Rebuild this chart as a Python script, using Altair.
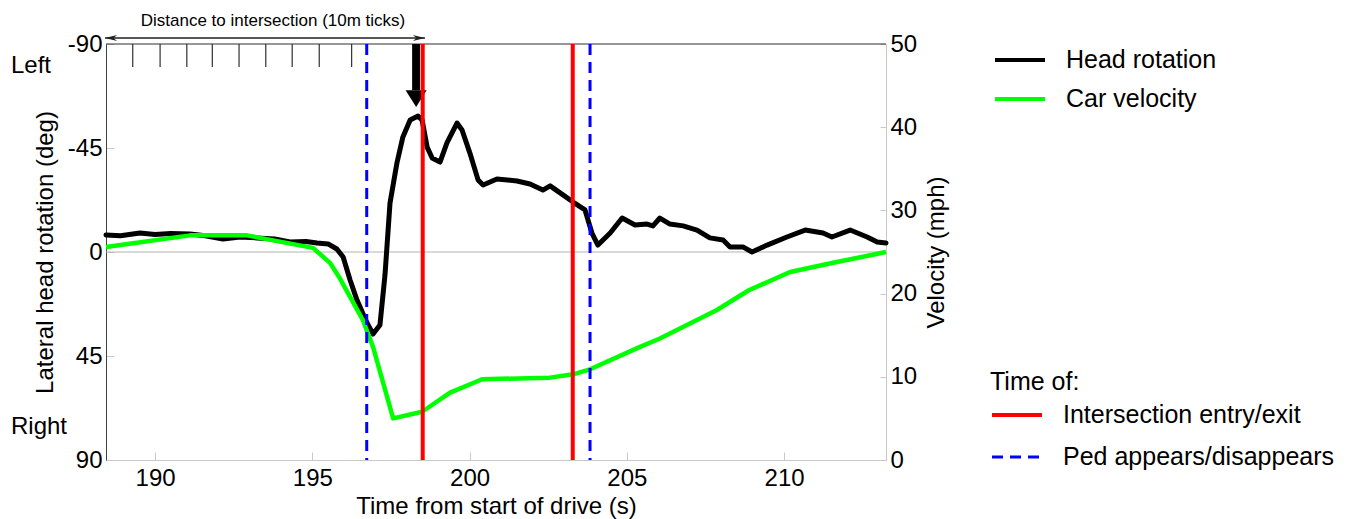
import altair as alt
import pandas as pd

FONT = "Liberation Sans"

# ---------------- data ----------------
head_t = [188.44, 188.9, 189.52, 190.0, 190.5, 191.11, 191.6, 192.16, 192.7, 193.24, 193.8, 194.29,
          194.8, 195.15, 195.5, 195.78, 195.98, 196.20, 196.42, 196.74, 196.93, 197.15, 197.31,
          197.47, 197.69, 197.88, 198.11, 198.36, 198.49, 198.65, 198.81, 199.06, 199.28, 199.60,
          199.76, 200.01, 200.27, 200.43, 200.87, 201.51, 201.92, 202.33, 202.56, 202.97, 203.29,
          203.67, 203.89, 204.08, 204.47, 204.85, 205.26, 205.64, 205.83, 206.05, 206.37, 206.79,
          207.23, 207.64, 208.06, 208.28, 208.69, 208.98, 209.46, 210.09, 210.67, 211.24, 211.52,
          212.10, 212.64, 212.96, 213.24]
head_deg = [-7.4, -7.0, -8.2, -7.6, -8.0, -7.8, -7.0, -5.6, -6.5, -6.1, -5.6, -4.3,
            -4.5, -3.9, -3.5, -1.3, 2.2, 12.1, 20.8, 30.7, 35.5, 31.6, 10.0,
            -21.2, -38.5, -49.8, -57.1, -58.8, -57.1, -45.4, -40.7, -38.9, -47.2, -55.8,
            -52.8, -42.8, -31.2, -29.0, -31.6, -30.7, -29.4, -26.8, -28.6, -24.7, -21.6,
            -18.2, -8.2, -3.0, -8.2, -14.7, -11.7, -12.1, -11.3, -14.7, -12.1, -11.3,
            -9.5, -6.1, -5.2, -2.2, -2.2, 0.0, -3.0, -6.5, -9.5, -8.2, -6.5,
            -9.5, -6.5, -4.3, -3.9]

vel_t = [188.44, 191.11, 192.92, 195.02, 195.56, 195.85, 196.20, 196.61, 196.93, 197.57, 198.49,
         199.38, 200.40, 202.56, 203.29, 203.83, 205.42, 206.05, 207.85, 208.88, 210.19, 211.56, 213.24]
vel_mph = [25.6, 27.0, 27.0, 25.5, 23.7, 22.0, 19.6, 16.8, 13.6, 5.0, 5.8,
           8.1, 9.7, 9.9, 10.3, 10.9, 13.6, 14.6, 18.0, 20.4, 22.6, 23.7, 25.0]

entry_exit_t = [198.51, 203.28]
ped_t = [196.73, 203.83]
event_names = ["Intersection entry/exit", "Ped appears/disappears"]
series_names = ["Head rotation", "Car velocity"]

dist_tick_t = [189.29, 190.16, 191.01, 191.82, 192.67, 193.52, 194.36, 195.22, 196.25]
dist_span_t = [188.41, 198.58]
dist_label = "Distance to intersection (10m ticks)"
head_arrow_t = 198.30

side_labels = ["Left", "Right"]
side_label_deg = [-80.5, 75.7]

x_ticks = [190, 195, 200, 205, 210]
deg_ticks = [-90, -45, 0, 45, 90]
vel_ticks = [0, 10, 20, 30, 40, 50]
X_DOMAIN = [188.44, 213.24]

# ---------------- scales ----------------
x_scale = alt.Scale(domain=X_DOMAIN, nice=False, zero=False)
deg_scale = alt.Scale(domain=[-90, 90], reverse=True, nice=False, zero=False)
vel_scale = alt.Scale(domain=[0, 50], nice=False, zero=False)
series_scale = alt.Scale(domain=series_names, range=["#000000", "#00ff00"])

INWARD = alt.ExprRef(expr="-8")

x_axis = alt.Axis(values=x_ticks, title="Time from start of drive (s)", labelExpr="'' + datum.value",
                  labelFontSize=24, labelFont=FONT, labelColor="black", labelFlush=False,
                  labelPadding=14, titleFontSize=24, titleFont=FONT, titleFontWeight="normal",
                  titleColor="black", titlePadding=4, domainColor="#c8c8c8", tickColor="#c8c8c8",
                  tickSize=INWARD, grid=False)

deg_axis = alt.Axis(values=deg_ticks, title="Lateral head rotation (deg)", labelExpr="'' + datum.value",
                    labelFontSize=24, labelFont=FONT, labelColor="black", labelFlush=False,
                    labelPadding=12, titleFontSize=24, titleFont=FONT, titleFontWeight="normal",
                    titleColor="black", titlePadding=10, domainColor="#404040", tickColor="#c8c8c8",
                    tickSize=INWARD, grid=False)

vel_axis = alt.Axis(values=vel_ticks, orient="right", title="Velocity (mph)", labelExpr="'' + datum.value",
                    labelFontSize=24, labelFont=FONT, labelColor="black", labelFlush=False,
                    labelPadding=10, titleFontSize=24, titleFont=FONT, titleFontWeight="normal",
                    titleColor="black", titlePadding=8, titleAngle=270, titleBaseline="top",
                    domainColor="#c8c8c8", tickColor="#c8c8c8", tickSize=alt.ExprRef(expr="-6"), grid=False)

series_legend = alt.Legend(orient="none", legendX=887, legendY=3.5, title=None, symbolType="stroke",
                           symbolSize=2500, symbolStrokeWidth=4, labelFontSize=25, labelFont=FONT,
                           labelColor="black", labelOffset=19, rowPadding=13, padding=0, labelLimit=0,
                           clipHeight=25)

event_legend = alt.Legend(orient="none", legendX=884, legendY=326, title="Time of:", titleFontSize=25,
                          titleFont=FONT, titleFontWeight="normal", titleColor="black", titlePadding=7.5,
                          symbolType="stroke", symbolSize=2500, symbolStrokeWidth=4, labelFontSize=25,
                          labelFont=FONT, labelColor="black", labelOffset=19, rowPadding=16, padding=0,
                          labelLimit=0, clipHeight=25)

# ---------------- frames ----------------
head_df = pd.DataFrame({"t": head_t, "deg": head_deg, "series": series_names[0]})
vel_df = pd.DataFrame({"t": vel_t, "v": vel_mph, "series": series_names[1]})
events_df = pd.DataFrame({"t": entry_exit_t + ped_t,
                          "event": [event_names[0]] * len(entry_exit_t) + [event_names[1]] * len(ped_t)})
dist_df = pd.DataFrame({"t": dist_tick_t})
one = pd.DataFrame({"k": [0]})
side_df = pd.DataFrame({"label": side_labels, "deg": side_label_deg})

x_enc = alt.X("t:Q", scale=x_scale, axis=x_axis)

zero_rule = alt.Chart(one).mark_rule(color="#b4b4b4", strokeWidth=1).encode(
    y=alt.Y(datum=0, scale=deg_scale, axis=deg_axis))
top_rule = alt.Chart(one).mark_rule(color="#303030", strokeWidth=1.2).encode(y=alt.datum(-90))

head = alt.Chart(head_df).mark_line(strokeWidth=5, strokeJoin="round", strokeCap="round").encode(
    x=x_enc,
    y=alt.Y("deg:Q", scale=deg_scale, axis=deg_axis),
    color=alt.Color("series:N", scale=series_scale, legend=series_legend),
)

dist_ticks = alt.Chart(dist_df).mark_rule(color="#303030", strokeWidth=1.2).encode(
    x=alt.X("t:Q", scale=x_scale), y=alt.datum(-90), y2=alt.datum(-80))
dist_line = alt.Chart(one).mark_rule(color="#202020", strokeWidth=1.4).encode(
    x=alt.datum(dist_span_t[0]), x2=alt.datum(dist_span_t[1]), y=alt.datum(-92.6))
arrow_l = alt.Chart(one).mark_point(shape="M0,0 L2,-0.5 L1.4,0 L2,0.5 Z", filled=True, size=144,
                                    color="#202020", opacity=1).encode(
    x=alt.datum(dist_span_t[0]), y=alt.datum(-92.6))
arrow_r = alt.Chart(one).mark_point(shape="M0,0 L-2,-0.5 L-1.4,0 L-2,0.5 Z", filled=True, size=144,
                                    color="#202020", opacity=1).encode(
    x=alt.datum(dist_span_t[1]), y=alt.datum(-92.6))
dist_text = alt.Chart(one).mark_text(text=dist_label, fontSize=17, font=FONT, color="black",
                                     baseline="middle", align="center").encode(
    x=alt.datum(193.75), y=alt.datum(-100))

shaft = alt.Chart(one).mark_rule(color="black", strokeWidth=8).encode(
    x=alt.datum(head_arrow_t), y=alt.datum(-90), y2=alt.datum(-70))
head_tip = alt.Chart(one).mark_point(shape="M-1,-1.6 L1,-1.6 L0,0 Z", filled=True, size=441,
                                     color="black", opacity=1).encode(
    x=alt.datum(head_arrow_t), y=alt.datum(-62.7))

side_text = alt.Chart(side_df).mark_text(fontSize=24, font=FONT, color="black", align="left",
                                         baseline="middle").encode(
    x=alt.value(-95), y=alt.Y("deg:Q"), text="label:N")

vel = alt.Chart(vel_df).mark_line(strokeWidth=4.5, strokeJoin="round").encode(
    x=x_enc,
    y=alt.Y("v:Q", scale=vel_scale, axis=vel_axis),
    color=alt.Color("series:N", scale=series_scale, legend=series_legend),
)

events = alt.Chart(events_df).mark_rule().encode(
    x=alt.X("t:Q", scale=x_scale),
    stroke=alt.Stroke("event:N", scale=alt.Scale(domain=event_names, range=["#ff0000", "#0000ff"]),
                      legend=event_legend),
    strokeDash=alt.StrokeDash("event:N", scale=alt.Scale(domain=event_names, range=[[1, 0], [11, 7]]),
                              legend=event_legend),
    strokeWidth=alt.StrokeWidth("event:N", scale=alt.Scale(domain=event_names, range=[4, 3]), legend=None),
)

left_group = alt.layer(zero_rule, top_rule, head, dist_ticks, dist_line, arrow_l, arrow_r, dist_text,
                       side_text, shaft, head_tip)

chart = alt.layer(left_group, vel, events).resolve_scale(y="independent").properties(
    width=780, height=416,
    autosize=alt.AutoSizeParams(type="none"),
    padding={"left": 98, "top": 36, "right": 452, "bottom": 60},
).configure(font=FONT).configure_view(stroke=None)

chart.save("out.html", embed_options={"renderer": "svg", "actions": False})
